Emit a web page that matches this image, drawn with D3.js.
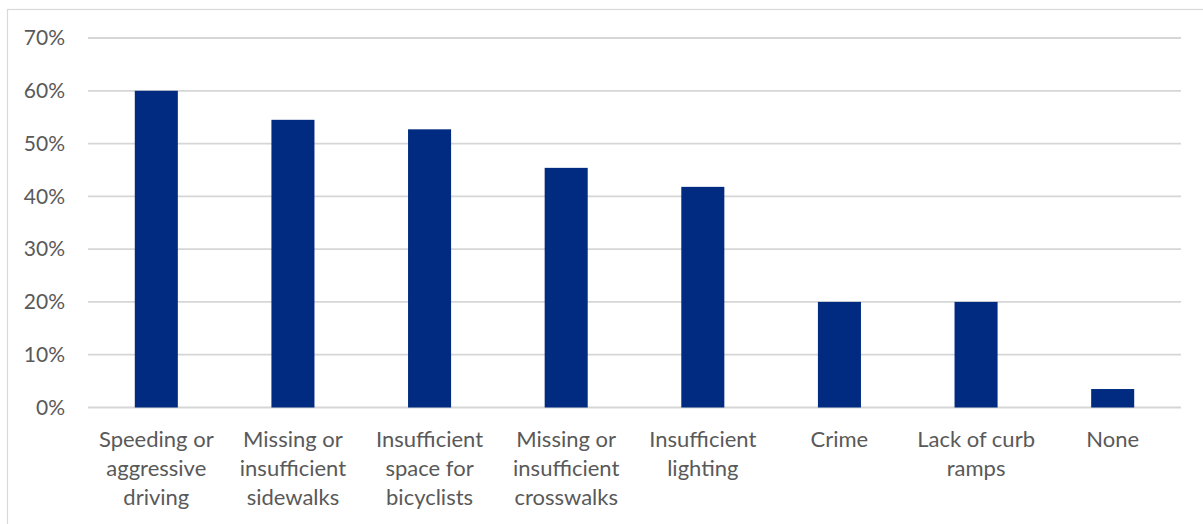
<!DOCTYPE html>
<html>
<head>
<meta charset="utf-8">
<script src="https://cdn.jsdelivr.net/npm/d3@7"></script>
<style>
  body { margin: 0; background: #fff; }
  svg { display: block; }
  text { font-family: Lato, "Open Sans", sans-serif; fill: #595959; }
</style>
</head>
<body>
<div id="chart"></div>
<script>
// data
var categories = [
  ["Speeding or", "aggressive", "driving"],
  ["Missing or", "insufficient", "sidewalks"],
  ["Insufficient", "space for", "bicyclists"],
  ["Missing or", "insufficient", "crosswalks"],
  ["Insufficient", "lighting"],
  ["Crime"],
  ["Lack of curb", "ramps"],
  ["None"]
];
var values = [0.60, 0.545, 0.527, 0.454, 0.418, 0.20, 0.20, 0.035];
var yTicks = [0, 0.1, 0.2, 0.3, 0.4, 0.5, 0.6, 0.7];

var width = 1203, height = 524;
var margin = { top: 38, right: 22, bottom: 116.5, left: 88 };

var svg = d3.select("#chart").append("svg")
    .attr("width", width)
    .attr("height", height);

// chart frame
svg.append("rect")
    .attr("x", 7.5).attr("y", 9.5)
    .attr("width", width + 20).attr("height", height + 20)
    .attr("fill", "none")
    .attr("stroke", "#d9d9d9")
    .attr("stroke-width", 1.2);

var x = d3.scaleBand()
    .domain(d3.range(categories.length))
    .range([margin.left, width - margin.right])
    .padding(0);

var y = d3.scaleLinear()
    .domain([0, 0.7])
    .range([height - margin.bottom, margin.top]);

var barW = x.bandwidth() * 0.315;

// gridlines
svg.append("g")
  .selectAll("line")
  .data(yTicks)
  .enter().append("line")
    .attr("x1", margin.left)
    .attr("x2", width - margin.right)
    .attr("y1", function(d) { return y(d); })
    .attr("y2", function(d) { return y(d); })
    .attr("stroke", "#d6d6d6")
    .attr("stroke-width", 1.8);

// y axis labels
var yAxis = d3.axisLeft(y)
    .tickValues(yTicks)
    .tickFormat(d3.format(".0%"))
    .tickSize(0)
    .tickPadding(0);

var ya = svg.append("g")
    .attr("transform", "translate(65,0)")
    .call(yAxis);
ya.select(".domain").remove();
ya.selectAll("text")
    .style("font-size", "21px")
    .style("font-family", "Lato, sans-serif")
    .attr("fill", "#595959");

// bars
svg.append("g")
  .selectAll("rect")
  .data(values)
  .enter().append("rect")
    .attr("x", function(d, i) { return x(i) + x.bandwidth() / 2 - barW / 2; })
    .attr("y", function(d) { return y(d); })
    .attr("width", barW)
    .attr("height", function(d) { return y(0) - y(d); })
    .attr("fill", "#002b80");

// category labels
var labels = svg.append("g")
  .selectAll("text")
  .data(categories)
  .enter().append("text")
    .attr("text-anchor", "middle")
    .attr("x", function(d, i) { return x(i) + x.bandwidth() / 2; })
    .attr("y", 447)
    .style("font-size", "22px");

labels.selectAll("tspan")
  .data(function(d) { return d; })
  .enter().append("tspan")
    .attr("x", function() { return d3.select(this.parentNode).attr("x"); })
    .attr("dy", function(d, i) { return i === 0 ? 0 : 29; })
    .text(function(d) { return d; });
</script>
</body>
</html>
